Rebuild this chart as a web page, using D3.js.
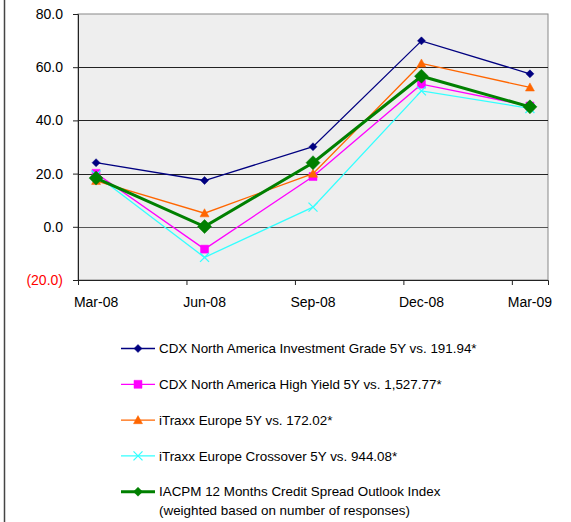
<!DOCTYPE html>
<html>
<head>
<meta charset="utf-8">
<script src="https://cdn.jsdelivr.net/npm/d3@7"></script>
<style>
  body { margin: 0; background: #fff; }
  text { font-family: "Liberation Sans", Arial, sans-serif; }
</style>
</head>
<body>
<div id="chart"></div>
<script>
// quarter labels and month offsets from Mar-08 (date axis, monthly base unit)
const quarters = ["Mar-08", "Jun-08", "Sep-08", "Dec-08", "Mar-09"];
const monthOffsets = [0, 3, 6, 9, 12];

const cdxIG = [24.1, 17.4, 30.1, 69.9, 57.5];
const cdxHY = [20.1, -8.4, 18.9, 53.6, 45.4];
const itraxx = [17.3, 5.1, 20.0, 61.4, 52.4];
const itraxxXover = [19.5, -11.5, 7.4, 51.1, 44.5];
const iacpm = [18.3, 0.1, 24.1, 56.6, 45.1];

const yTicks = [-20, 0, 20, 40, 60, 80];

const seriesNames = [
    "CDX North America Investment Grade 5Y vs. 191.94*",
    "CDX North America High Yield 5Y vs. 1,527.77*",
    "iTraxx Europe 5Y vs. 172.02*",
    "iTraxx Europe Crossover 5Y vs. 944.08*",
    "IACPM 12 Months Credit Spread Outlook Index|(weighted based on number of responses)"
];

const styles = [
    { color: "#000080", width: 1.3, marker: "diamond", size: 8 },
    { color: "#ff00ff", width: 1.3, marker: "square", size: 8 },
    { color: "#ff6600", width: 1.3, marker: "triangle", size: 9 },
    { color: "#33ffff", width: 1.3, marker: "cross", size: 9 },
    { color: "#008000", width: 3, marker: "diamond", size: 14 }
];

const allSeries = [cdxIG, cdxHY, itraxx, itraxxXover, iacpm];

const width = 571, height = 522;
const plot = { left: 78, right: 548, top: 14, bottom: 280 };

const svg = d3.select("#chart").append("svg")
    .attr("width", width)
    .attr("height", height);

// outer frame edge
svg.append("line")
    .attr("x1", 4.5).attr("x2", 4.5)
    .attr("y1", 0).attr("y2", height)
    .attr("stroke", "#444")
    .attr("stroke-width", 1.5);

const x = d3.scaleLinear().domain([0, 13]).range([plot.left, plot.right]);
const y = d3.scaleLinear().domain([-20, 80]).range([plot.bottom, plot.top]);

svg.append("rect")
    .attr("x", plot.left).attr("y", plot.top)
    .attr("width", plot.right - plot.left)
    .attr("height", plot.bottom - plot.top)
    .attr("fill", "#eeeeee")
    .attr("stroke", "#888")
    .attr("stroke-width", 1);

// gridlines
svg.append("g").selectAll("line")
    .data(yTicks.filter(v => v > -20 && v < 80))
    .enter().append("line")
    .attr("x1", plot.left).attr("x2", plot.right)
    .attr("y1", d => Math.round(y(d)) + 0.5)
    .attr("y2", d => Math.round(y(d)) + 0.5)
    .attr("stroke", d => d === 0 ? "#555" : "#222")
    .attr("stroke-width", 1);

// y axis
const yAxis = svg.append("g")
    .attr("transform", `translate(${plot.left},0)`)
    .call(d3.axisLeft(y).tickValues(yTicks).tickSize(5).tickPadding(10)
        .tickFormat(d => d < 0 ? `(${Math.abs(d).toFixed(1)})` : d.toFixed(1)));
yAxis.select(".domain").attr("stroke", "#222");
yAxis.selectAll(".tick line").attr("stroke", "#222");
yAxis.selectAll("text")
    .attr("font-size", 14)
    .attr("font-family", "Liberation Sans, Arial, sans-serif")
    .attr("fill", d => d < 0 ? "#ff0000" : "#000");

// x axis: ticks at quarter starts, labels centred on month slots
const xAxis = svg.append("g")
    .attr("transform", `translate(0,${plot.bottom})`)
    .call(d3.axisBottom(x).tickValues(monthOffsets).tickSize(5).tickFormat(""));
xAxis.select(".domain").attr("stroke", "#222");
xAxis.selectAll(".tick line").attr("stroke", "#222");

svg.append("g").selectAll("text")
    .data(quarters)
    .enter().append("text")
    .attr("x", (_, i) => x(monthOffsets[i] + 0.5))
    .attr("y", 307)
    .attr("text-anchor", "middle")
    .attr("font-size", 14)
    .text(d => d);

function markerPath(type, s) {
    const h = s / 2;
    if (type === "diamond") return `M0,${-h}L${h},0L0,${h}L${-h},0Z`;
    if (type === "square") return `M${-h},${-h}H${h}V${h}H${-h}Z`;
    if (type === "triangle") return `M0,${-h}L${h},${h * 0.8}L${-h},${h * 0.8}Z`;
    return `M${-h},${-h}L${h},${h}M${-h},${h}L${h},${-h}`;
}

function drawMarker(g, st, cx, cy) {
    const isCross = st.marker === "cross";
    g.append("path")
        .attr("transform", `translate(${cx},${cy})`)
        .attr("d", markerPath(st.marker, st.size))
        .attr("fill", isCross ? "none" : st.color)
        .attr("stroke", st.color)
        .attr("stroke-width", isCross ? 1.3 : 0.5);
}

const line = d3.line()
    .x((_, i) => x(monthOffsets[i] + 0.5))
    .y(d => y(d));

allSeries.forEach((vals, si) => {
    const st = styles[si];
    const g = svg.append("g");
    g.append("path")
        .datum(vals)
        .attr("d", line)
        .attr("fill", "none")
        .attr("stroke", st.color)
        .attr("stroke-width", st.width);
    vals.forEach((v, i) => drawMarker(g, st, x(monthOffsets[i] + 0.5), y(v)));
});

// legend
const legend = svg.append("g");
seriesNames.forEach((name, i) => {
    const st = styles[i];
    const ly = 348.5 + i * 35.8;
    legend.append("line")
        .attr("x1", 121).attr("x2", 155)
        .attr("y1", ly).attr("y2", ly)
        .attr("stroke", st.color)
        .attr("stroke-width", st.width);
    drawMarker(legend, { ...st, size: i === 4 ? 9 : st.size }, 138, ly);
    const parts = name.split("|");
    parts.forEach((p, j) => {
        legend.append("text")
            .attr("x", 159)
            .attr("y", ly + j * 19)
            .attr("dy", "0.35em")
            .attr("font-size", 13.4)
            .text(p);
    });
});
</script>
</body>
</html>
